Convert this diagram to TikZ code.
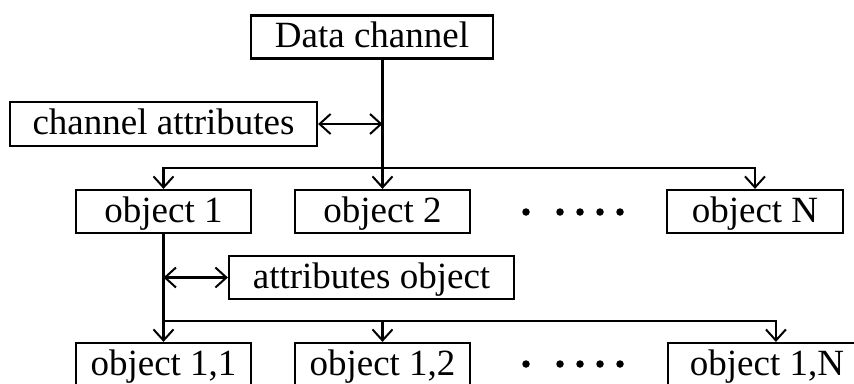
\documentclass[tikz,border=0pt]{standalone}
\usepackage{fontspec}
\setmainfont{Liberation Serif}
\usetikzlibrary{arrows.meta,calc}
\begin{document}
\begin{tikzpicture}[x=1pt,y=-1pt,
  box/.style={draw,line width=2.2pt,inner sep=0pt,minimum height=43pt,
    text height=29pt,text depth=7.5pt,font=\fontsize{37}{40}\selectfont},
  conn/.style={line width=2.2pt},
  arr/.style={conn,-{Straight Barb[length=11pt,width=20pt,line width=2pt]}},
  darr/.style={conn,{Straight Barb[length=11pt,width=20pt,line width=2pt]}-{Straight Barb[length=11pt,width=20pt,line width=2pt]}},
  dot/.style={fill=black,circle,inner sep=0pt,minimum size=7.5pt}]
\clip (0,0) rectangle (854,383);
\fill[white] (0,0) rectangle (854,383);
% nodes
\node[box,minimum width=242pt] (DC) at (372,37) {Data channel};
\node[box,minimum width=307pt,minimum height=44pt] (CA) at (163.5,124) {channel attributes};
\node[box,minimum width=175pt] (O1) at (163.5,211.5) {object 1};
\node[box,minimum width=175pt] (O2) at (382.5,211.5) {object 2};
\node[box,minimum width=176pt] (ON) at (755,211.5) {object N};
\node[box,minimum width=285pt] (AO) at (371.5,277.5) {attributes object};
\node[box,minimum width=175pt] (O11) at (163.5,364.5) {object 1,1};
\node[box,minimum width=175pt] (O12) at (382.5,364.5) {object 1,2};
\node[box,minimum width=198pt] (O1N) at (767,364.5) {object 1,N};
% dots
\foreach \yy/\nm in {212/a,364/b}{
  \foreach \xx/\k in {526/1,560/2,580/3,600/4,620/5}{
    \node[dot] (d\nm\k) at (\xx,\yy) {};
  }
}
% bus coordinates
\coordinate (bus1) at (383,168);
\coordinate (bus2) at (163.5,321);
% connectors top level
\draw[arr] (O2.north |- DC.south) -- (O2.north);
\draw[darr] (CA.east) -- (CA.east -| O2.north);
\draw[arr] (bus1) -| (O1.north);
\draw[arr] (bus1) -| (ON.north);
% second level
\draw[arr] (O1.south) -- (O11.north);
\draw[darr] (AO.west -| O1.south) -- (AO.west);
\draw[arr] (bus2) -| (O12.north);
\draw[arr] (bus2) -| ([xshift=109pt]O1N.north west);
\end{tikzpicture}
\end{document}
